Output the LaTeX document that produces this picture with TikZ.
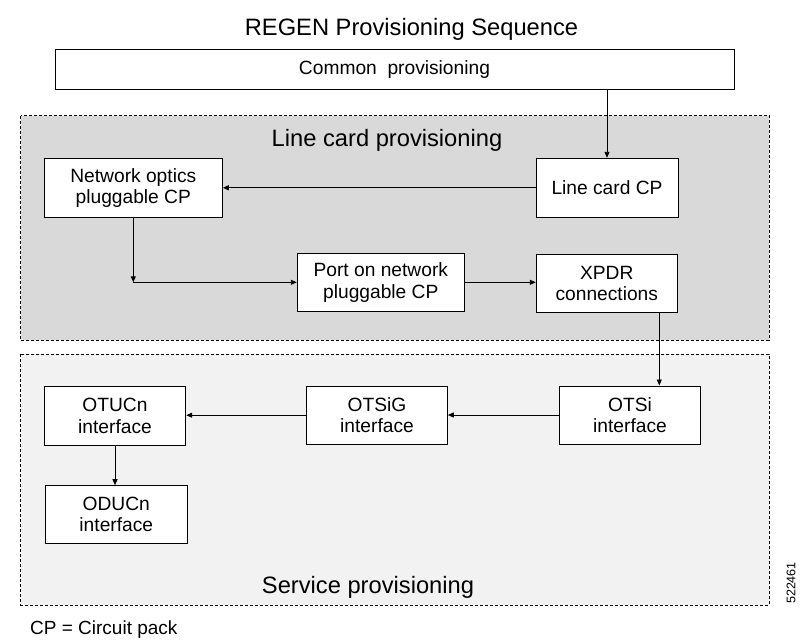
\documentclass[tikz,border=0pt]{standalone}
\usepackage{fontspec}
\setmainfont{Liberation Sans}
\usetikzlibrary{arrows.meta}
\definecolor{lcgray}{HTML}{D9D9D9}
\definecolor{spgray}{HTML}{F2F2F2}
\begin{document}
\begin{tikzpicture}[x=1pt,y=-1pt,
  box/.style={draw=black,line width=1pt,fill=white,inner sep=0pt,align=center,
    font=\fontsize{19.2}{21.5}\selectfont},
  region/.style={draw=black,line width=0.8pt,dash pattern=on 3pt off 2pt},
  arr/.style={line width=0.9pt,-{Triangle[length=6pt,width=5pt]}},
  big/.style={font=\fontsize{23.7}{28}\selectfont,inner sep=0pt},
  body/.style={font=\fontsize{19}{22}\selectfont,inner sep=0pt}]
\useasboundingbox (0,0) rectangle (800,642);
\fill[white] (0,0) rectangle (800,642);
% regions
\draw[region,fill=lcgray] (20.7,115.7) rectangle (769.3,340);
\draw[region,fill=spgray] (20.7,354.3) rectangle (769.3,605);
% labels
\node[big,anchor=base] (title) at (411.5,36) {REGEN Provisioning Sequence};
\node[big,anchor=base] (lcp) at (387,146) {Line card provisioning};
\node[big,anchor=base] (spl) at (368,593.5) {Service provisioning};
\node[body,anchor=base west] (cpnote) at (30,634) {CP = Circuit pack};
\node[inner sep=0pt,rotate=90,font=\fontsize{12.5}{14}\selectfont] (fig) at (791,583) {522461};
% boxes
\node[box,minimum width=679pt,minimum height=40pt] (common) at (394.5,69.3) {Common\ \ provisioning};
\node[box,minimum width=142pt,minimum height=59pt] (linecp) at (607,187.8) {Line card CP};
\node[box,minimum width=178pt,minimum height=59pt] (netopt) at (133.3,187.8) {Network optics\\pluggable CP};
\node[box,minimum width=167pt,minimum height=58pt] (port) at (380.8,282.3) {Port on network\\pluggable CP};
\node[box,minimum width=141pt,minimum height=58pt] (xpdr) at (606.8,283.3) {XPDR\\connections};
\node[box,minimum width=141.4pt,minimum height=59.3pt] (otucn) at (115,415.7) {OTUCn\\interface};
\node[box,minimum width=140.6pt,minimum height=58.3pt] (otsig) at (377,415.2) {OTSiG\\interface};
\node[box,minimum width=141.4pt,minimum height=58pt] (otsi) at (630,415) {OTSi\\interface};
\node[box,minimum width=142pt,minimum height=57.6pt] (oducn) at (116.3,514.5) {ODUCn\\interface};
% connectors
\draw[arr] (common.south -| linecp.north) -- (linecp.north);
\draw[arr] (linecp.west) -- (linecp.west -| netopt.east);
\coordinate (corner) at (netopt.south |- port.west);
\draw[arr] (netopt.south) -- (corner);
\draw[arr] (corner) -- (port.west);
\draw[arr] (port.east) -- (port.east -| xpdr.west);
\coordinate (xdown) at ([xshift=52.5pt]xpdr.south);
\draw[arr] (xdown) -- (xdown |- otsi.north);
\draw[arr] (otsi.west) -- (otsi.west -| otsig.east);
\draw[arr] (otsig.west) -- (otsig.west -| otucn.east);
\draw[arr] (otucn.south) -- (otucn.south |- oducn.north);
\end{tikzpicture}
\end{document}
